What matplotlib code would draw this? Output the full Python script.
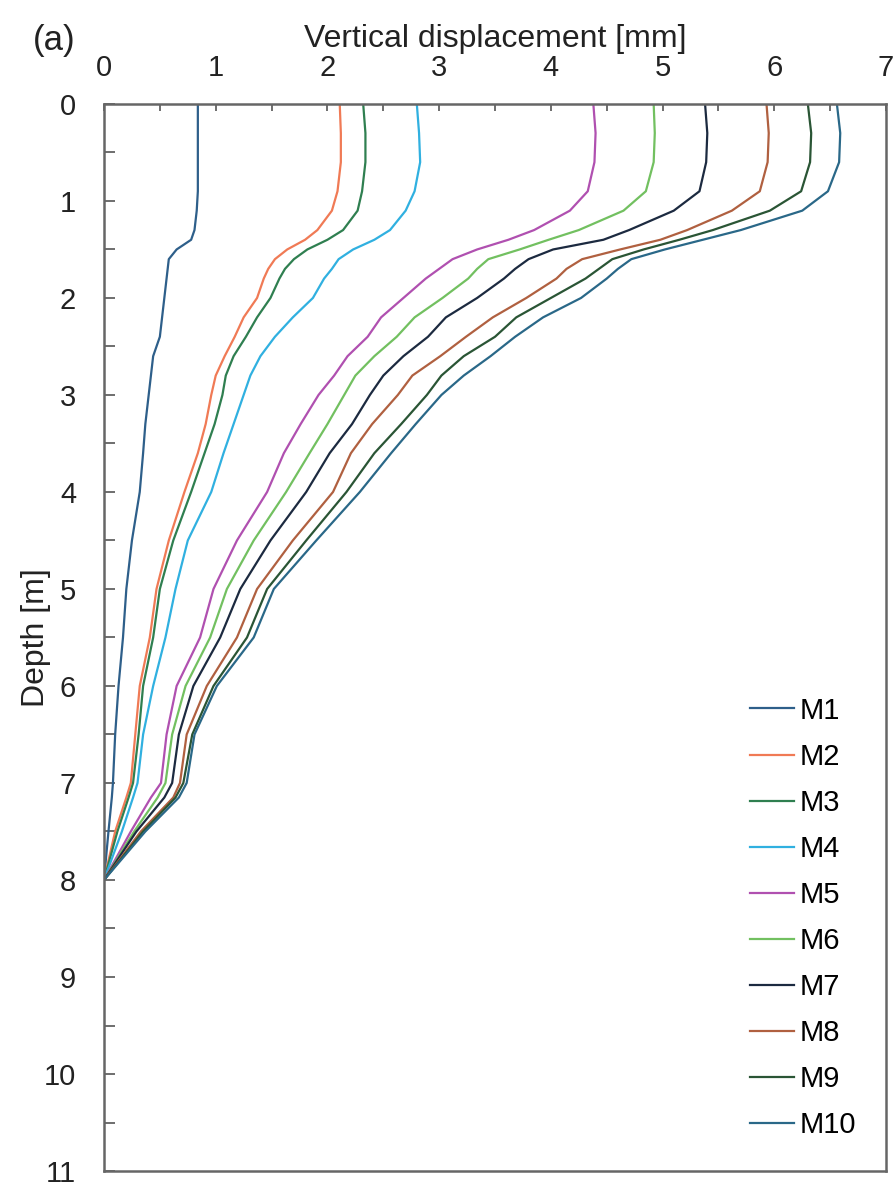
import matplotlib
matplotlib.use('Agg')
import matplotlib.pyplot as plt
from matplotlib.ticker import MultipleLocator

plt.rcParams['font.family'] = ['Liberation Sans', 'DejaVu Sans']

# profundidade [m] (comum a todas as curvas)
depth = [0, 0.3, 0.6, 0.9, 1.1, 1.3, 1.4, 1.5, 1.6, 1.7, 1.8, 2.0, 2.2, 2.4, 2.6,
         2.8, 3.0, 3.3, 3.6, 4.0, 4.5, 5.0, 5.5, 6.0, 6.5, 7.0, 7.15, 7.5, 8.0]

# deslocamento vertical [mm]
m1 = [0.84, 0.84, 0.84, 0.84, 0.83, 0.81, 0.78, 0.65, 0.58, 0.57, 0.56, 0.54, 0.52, 0.50, 0.44,
      0.42, 0.40, 0.37, 0.35, 0.32, 0.25, 0.20, 0.17, 0.13, 0.10, 0.08, 0.07, 0.04, 0.0]
m2 = [2.11, 2.12, 2.12, 2.09, 2.04, 1.91, 1.80, 1.64, 1.53, 1.47, 1.43, 1.37, 1.25, 1.17, 1.08,
      1.00, 0.96, 0.91, 0.84, 0.72, 0.58, 0.47, 0.41, 0.32, 0.28, 0.24, 0.20, 0.10, 0.0]
m3 = [2.32, 2.34, 2.34, 2.31, 2.27, 2.14, 2.00, 1.82, 1.70, 1.62, 1.57, 1.49, 1.37, 1.27, 1.16,
      1.09, 1.06, 0.99, 0.90, 0.78, 0.62, 0.50, 0.44, 0.35, 0.31, 0.26, 0.22, 0.12, 0.0]
m4 = [2.80, 2.82, 2.83, 2.78, 2.70, 2.56, 2.42, 2.23, 2.10, 2.04, 1.97, 1.87, 1.69, 1.53, 1.40,
      1.31, 1.25, 1.16, 1.07, 0.96, 0.75, 0.64, 0.55, 0.44, 0.35, 0.30, 0.26, 0.16, 0.0]
m5 = [4.38, 4.40, 4.39, 4.33, 4.17, 3.85, 3.62, 3.34, 3.12, 3.00, 2.88, 2.68, 2.48, 2.36, 2.18,
      2.06, 1.92, 1.76, 1.61, 1.46, 1.19, 0.98, 0.86, 0.65, 0.56, 0.51, 0.42, 0.24, 0.0]
m6 = [4.92, 4.93, 4.92, 4.85, 4.65, 4.25, 3.98, 3.72, 3.44, 3.34, 3.26, 3.03, 2.78, 2.62, 2.42,
      2.25, 2.15, 2.00, 1.84, 1.63, 1.34, 1.10, 0.95, 0.73, 0.61, 0.55, 0.48, 0.27, 0.0]
m7 = [5.38, 5.40, 5.39, 5.33, 5.10, 4.70, 4.47, 4.02, 3.80, 3.68, 3.58, 3.34, 3.06, 2.90, 2.68,
      2.50, 2.38, 2.22, 2.02, 1.81, 1.49, 1.22, 1.04, 0.80, 0.67, 0.61, 0.54, 0.29, 0.0]
m8 = [5.93, 5.95, 5.94, 5.87, 5.62, 5.22, 4.98, 4.62, 4.28, 4.14, 4.05, 3.78, 3.48, 3.24, 3.01,
      2.76, 2.63, 2.40, 2.21, 2.05, 1.69, 1.37, 1.19, 0.92, 0.74, 0.68, 0.62, 0.33, 0.0]
m9 = [6.30, 6.33, 6.32, 6.24, 5.96, 5.45, 5.15, 4.83, 4.55, 4.43, 4.31, 4.00, 3.69, 3.50, 3.22,
      3.02, 2.89, 2.66, 2.42, 2.17, 1.81, 1.46, 1.28, 0.98, 0.79, 0.71, 0.64, 0.35, 0.0]
m10 = [6.56, 6.59, 6.58, 6.48, 6.25, 5.70, 5.36, 5.02, 4.72, 4.60, 4.50, 4.27, 3.93, 3.68, 3.46,
       3.22, 3.02, 2.79, 2.57, 2.29, 1.90, 1.52, 1.34, 1.01, 0.81, 0.74, 0.67, 0.37, 0.0]

labels = ['M1', 'M2', 'M3', 'M4', 'M5', 'M6', 'M7', 'M8', 'M9', 'M10']
series = [m1, m2, m3, m4, m5, m6, m7, m8, m9, m10]
cores = ['#2e5f8a', '#f07a55', '#2f7f50', '#30b0e0', '#b050b0',
         '#72c060', '#1c2a40', '#b06040', '#2a5535', '#2a6888']

fig = plt.figure(figsize=(8.95, 11.88), dpi=100)
ax = fig.add_axes([0.1162, 0.0143, 0.8738, 0.8982])

for lab, vals, c in zip(labels, series, cores):
    ax.plot(vals, depth, color=c, lw=1.6, label=lab)

ax.set_xlim(0, 7)
ax.set_ylim(11, 0)
ax.xaxis.set_ticks_position('top')
ax.xaxis.set_label_position('top')
ax.xaxis.set_major_locator(MultipleLocator(1))
ax.xaxis.set_minor_locator(MultipleLocator(0.5))
ax.yaxis.set_major_locator(MultipleLocator(1))
ax.yaxis.set_minor_locator(MultipleLocator(0.5))
ax.tick_params(axis='y', which='both', direction='in', left=True, right=False,
               length=8, width=1.2, color='#555555', pad=20, labelsize=21,
               labelcolor='#222222')
ax.tick_params(axis='x', which='both', direction='in', top=True, bottom=False,
               length=5, width=1.2, color='#555555', pad=16, labelsize=21,
               labelcolor='#222222')

for s in ax.spines.values():
    s.set_color('#666666')
    s.set_linewidth(1.8)

ax.set_xlabel('Vertical displacement [mm]', fontsize=23, labelpad=5, color='#222222')
ax.set_ylabel('Depth [m]', fontsize=23, labelpad=-5, color='#222222')

ax.legend(loc='lower right', frameon=False, fontsize=21, handlelength=1.5,
          handletextpad=0.2, labelspacing=0.62, bbox_to_anchor=(0.995, 0.005))

fig.text(0.037, 0.966, '(a)', fontsize=25, va='center', ha='left', color='#222222')

fig.savefig('out.png', dpi=100)
